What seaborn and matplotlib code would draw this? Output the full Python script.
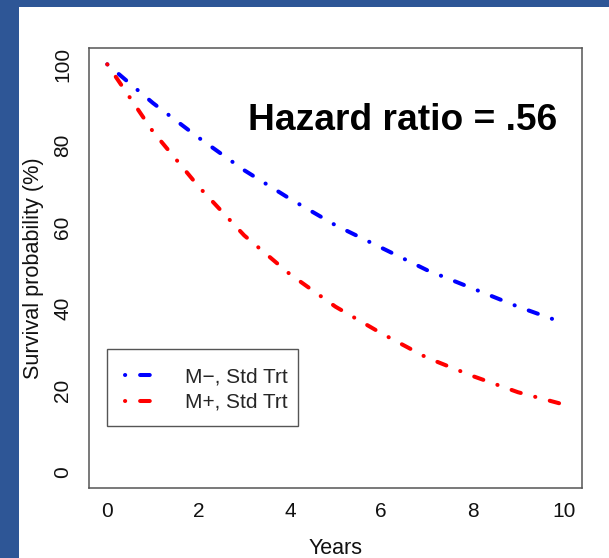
import matplotlib
matplotlib.use("Agg")
import matplotlib.pyplot as plt
import seaborn as sns
import pandas as pd
from matplotlib.patches import Rectangle
from matplotlib.lines import Line2D

# ---- data ----
years = [0, 1, 2, 3, 4, 5, 6, 7, 8, 9, 10]
surv_m_minus = [100, 90.5, 82, 74, 67, 60.5, 55, 49.5, 45, 40.5, 36.5]
surv_m_plus = [100, 83.5, 70, 58, 48.5, 40.5, 34, 28, 23.5, 19.5, 16.5]
series_names = ["M\u2212, Std Trt", "M+, Std Trt"]
x_ticks = [0, 2, 4, 6, 8, 10]
y_ticks = [0, 20, 40, 60, 80, 100]
title_text = "Hazard ratio = .56"

sns.set_style("white")
plt.rcParams["font.family"] = ["Liberation Sans", "DejaVu Sans"]

BLUE_BG = "#2E5696"
W, H = 609, 558
FS = 15
fig = plt.figure(figsize=(W / 100, H / 100), dpi=100)
fig.patch.set_facecolor(BLUE_BG)
fig.add_artist(Rectangle((19 / W, 0), 1 - 19 / W, 1 - 7 / H, transform=fig.transFigure,
                         facecolor="white", edgecolor="none", zorder=0))

AX_L, AX_R, AX_T, AX_B = 89, 582, 48, 488
ax = fig.add_axes([AX_L / W, 1 - AX_B / H, (AX_R - AX_L) / W, (AX_B - AX_T) / H])
ax.set_facecolor("white")

df_minus = pd.DataFrame({"Years": years, "Survival": surv_m_minus})
df_plus = pd.DataFrame({"Years": years, "Survival": surv_m_plus})

ls = (0, (0.05, 3.7, 2.4, 3.7))
lw = 2.9
sns.lineplot(data=df_minus, x="Years", y="Survival", ax=ax, color="#0000FF",
             linewidth=lw, linestyle=ls, dash_capstyle="round")
sns.lineplot(data=df_plus, x="Years", y="Survival", ax=ax, color="#FF0000",
             linewidth=lw, linestyle=ls, dash_capstyle="round")

ax.set_xlim(-0.4, 10.4)
ax.set_ylim(-4, 104)
ax.set_xticks(x_ticks)
ax.set_yticks(y_ticks)
ax.set_xticklabels([str(t) for t in x_ticks], fontsize=FS)
ax.set_yticklabels([str(t) for t in y_ticks], fontsize=FS, rotation=90, va="center")
ax.tick_params(axis="both", direction="out", length=5, width=1.0, color="#555555",
               labelcolor="#111111")
ax.tick_params(axis="x", pad=5)
ax.tick_params(axis="y", pad=7)
for s in ax.spines.values():
    s.set_visible(True)
    s.set_color("#555555")
    s.set_linewidth(1.1)

ax.set_xlabel("Years", fontsize=15.5, color="#111111", labelpad=12)
ax.set_ylabel("Survival probability (%)", fontsize=15.6, color="#111111", labelpad=7)

ax.text(9.86, 86.3, title_text, fontsize=26.7, fontweight="bold", ha="right", va="center",
        color="black")

# legend (frame drawn separately to match the reference box)
LG_L, LG_R, LG_T, LG_B = 107, 298, 349, 426
handles = [Line2D([0], [0], color="#0000FF", linewidth=lw, linestyle=ls, dash_capstyle="round"),
           Line2D([0], [0], color="#FF0000", linewidth=lw, linestyle=ls, dash_capstyle="round")]
leg = ax.legend(handles, series_names, loc="upper left",
                bbox_to_anchor=((LG_L - AX_L) / (AX_R - AX_L), 1 - (LG_T + 1 - AX_T) / (AX_B - AX_T)),
                frameon=False, fontsize=FS, handlelength=1.35,
                borderpad=0.85, labelspacing=0.3, handletextpad=1.55, borderaxespad=0)
fig.add_artist(Rectangle((LG_L / W, 1 - LG_B / H), (LG_R - LG_L) / W, (LG_B - LG_T) / H,
                         transform=fig.transFigure, facecolor="none",
                         edgecolor="#555555", linewidth=1.0, zorder=5))

fig.savefig("out.png", dpi=100, facecolor=fig.get_facecolor())
